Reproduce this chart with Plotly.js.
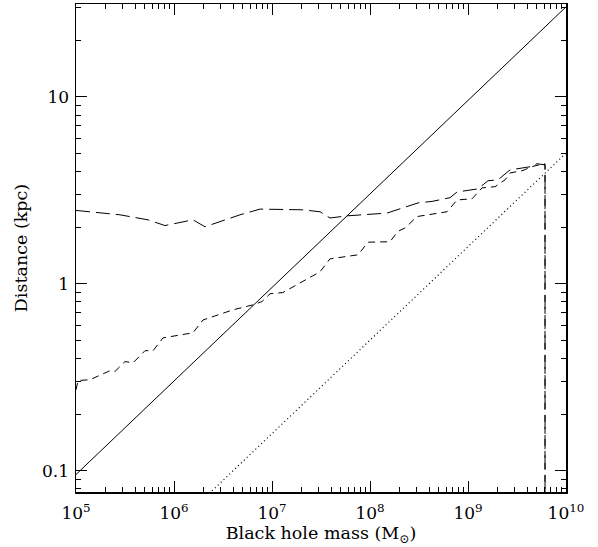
<!DOCTYPE html>
<html>
<head>
<meta charset="utf-8">
<script src="https://cdn.plot.ly/plotly-3.0.1.min.js"></script>
<style>html,body{margin:0;padding:0;background:#fff;}#chart{width:598px;height:547px;}</style>
</head>
<body>
<div id="chart"></div>
<script>
// Long-dashed curve
const longMass = [1.0e5, 2.81e5, 5.43e5, 8.09e5, 1.56e6, 2.07e6, 4.71e6, 7.55e6, 2.02e7, 3.09e7, 3.91e7, 5.82e7, 1.49e8, 2.02e8, 3.09e8, 4.30e8, 6.55e8, 7.73e8, 1.26e9, 1.60e9, 2.02e9, 2.69e9, 4.30e9, 5.06e9, 6.11e9, 6.11e9];
const longDist = [2.47, 2.34, 2.20, 2.05, 2.20, 2.02, 2.34, 2.51, 2.49, 2.43, 2.25, 2.31, 2.39, 2.52, 2.71, 2.76, 2.89, 3.10, 3.22, 3.56, 3.60, 4.07, 4.23, 4.39, 4.33, 0.001];
// Short-dashed curve
const shortMass = [1.0e5, 1.05e5, 1.39e5, 1.76e5, 2.22e5, 2.50e5, 3.16e5, 3.82e5, 5.06e5, 6.11e5, 7.73e5, 1.56e6, 1.98e6, 4.0e6, 6.40e6, 7.91e6, 9.55e6, 1.29e7, 3.09e7, 3.91e7, 7.55e7, 9.55e7, 1.60e8, 1.93e8, 2.28e8, 3.02e8, 6.11e8, 7.73e8, 1.10e9, 1.39e9, 1.89e9, 2.39e9, 2.69e9, 3.64e9, 4.50e9, 5.82e9, 6.11e9, 6.11e9];
const shortDist = [0.271, 0.304, 0.307, 0.326, 0.343, 0.340, 0.384, 0.378, 0.439, 0.439, 0.514, 0.547, 0.641, 0.726, 0.772, 0.804, 0.885, 0.898, 1.16, 1.36, 1.43, 1.67, 1.68, 1.91, 1.99, 2.29, 2.43, 2.81, 2.85, 3.26, 3.31, 3.60, 3.92, 4.04, 4.24, 4.38, 4.38, 0.001];
// Solid power-law line
const solidMass = [1e5, 1e10];
const solidDist = [0.0955, 30.3];
// Dotted power-law line
const dotMass = [1e5, 1e10];
const dotDist = [0.0158, 5.0];
// Tick labels
const xTickVals = [1e5, 1e6, 1e7, 1e8, 1e9, 1e10];
const xTickText = ['10<sup>5</sup>', '10<sup>6</sup>', '10<sup>7</sup>', '10<sup>8</sup>', '10<sup>9</sup>', '10<sup>10</sup>'];
const yTickVals = [0.1, 1, 10];
const yTickText = ['0.1', '1', '10'];

const font = 'DejaVu Serif, Liberation Serif, serif';
const traces = [
  {x: solidMass, y: solidDist, mode: 'lines', line: {color: '#000', width: 1}},
  {x: dotMass, y: dotDist, mode: 'lines', line: {color: '#000', width: 1.2, dash: '1px,3px'}},
  {x: longMass, y: longDist, mode: 'lines', line: {color: '#000', width: 1, dash: '14px,6px'}},
  {x: shortMass, y: shortDist, mode: 'lines', line: {color: '#000', width: 1, dash: '7px,5px'}}
];
const axisCommon = {
  type: 'log', showgrid: false, zeroline: false, showline: true, linecolor: '#000', linewidth: 1.5,
  mirror: 'allticks', ticks: 'inside', ticklen: 11, tickwidth: 1, tickcolor: '#000',
  tickfont: {family: font, size: 17, color: '#000'},
  minor: {ticks: 'inside', ticklen: 5, tickwidth: 1, tickcolor: '#000', dtick: 'D1', showgrid: false}
};
const layout = {
  width: 598, height: 547,
  margin: {l: 76, r: 32, t: 4, b: 55},
  paper_bgcolor: '#fff', plot_bgcolor: '#fff', showlegend: false,
  font: {family: font, color: '#000'},
  xaxis: Object.assign({}, axisCommon, {
    range: [5, 10], tickmode: 'array', tickvals: xTickVals, ticktext: xTickText,
    ticklabelstandoff: 5,
    title: {text: 'Black hole mass (M<sub>⊙</sub>)', font: {family: font, size: 17.5, color: '#000'}, standoff: 2}
  }),
  yaxis: Object.assign({}, axisCommon, {
    range: [Math.log10(0.077), Math.log10(31.4)], tickmode: 'array', tickvals: yTickVals, ticktext: yTickText,
    ticklabelstandoff: 2,
    title: {text: 'Distance (kpc)', font: {family: font, size: 17.5, color: '#000'}, standoff: 10}
  })
};
Plotly.newPlot('chart', traces, layout, {staticPlot: true});
</script>
</body>
</html>
